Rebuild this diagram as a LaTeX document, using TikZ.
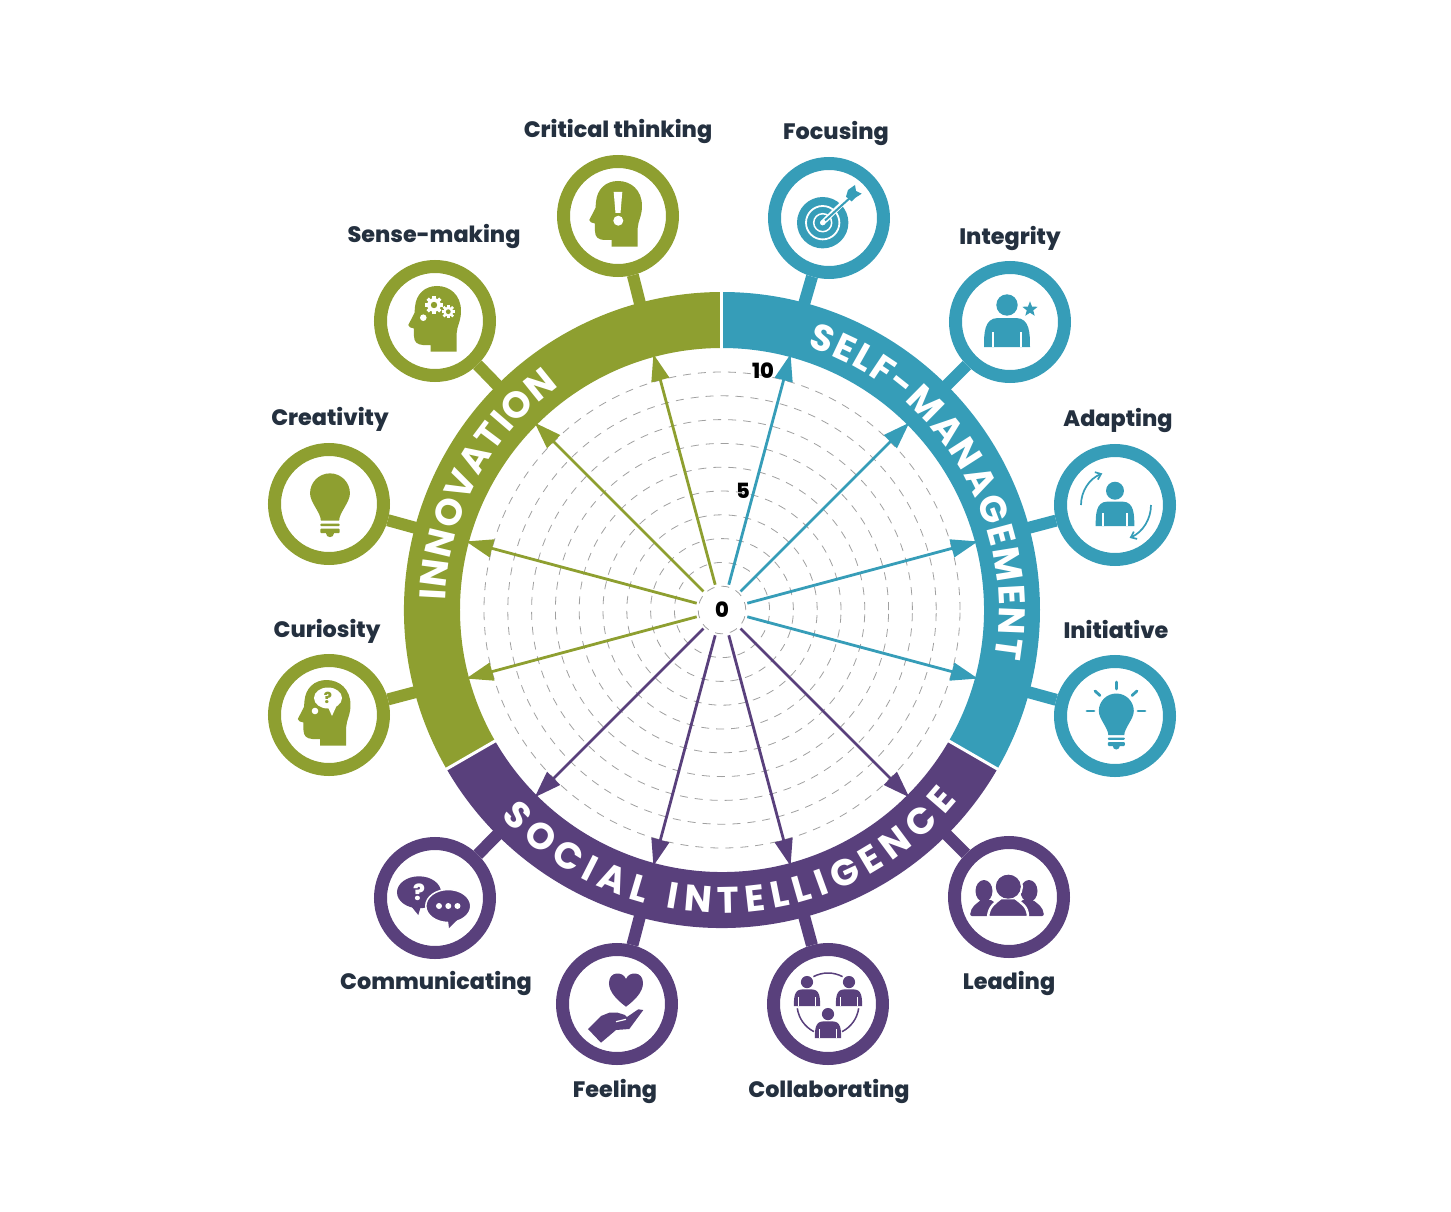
\documentclass[tikz,border=0pt]{standalone}
\usepackage{fontspec}
\usetikzlibrary{arrows.meta,decorations.text,calc}
\newfontfamily\lblfont{Poppins ExtraBold}
\newfontfamily\bandfont{Poppins Bold}
\definecolor{cblue}{HTML}{369DB8}
\definecolor{cgreen}{HTML}{8E9F30}
\definecolor{cpurple}{HTML}{59407C}
\definecolor{cink}{HTML}{24303F}
\definecolor{cdash}{HTML}{A0A0A0}
\tikzset{
  iconring/.style={circle,draw=#1,line width=13pt,fill=white,minimum size=109pt,inner sep=0pt},
  stemline/.style={draw=#1,line width=12pt},
  rayline/.style={draw=#1,line width=2.8pt,-{Triangle[length=27pt,width=18pt,fill=#1]}},
  gridline/.style={draw=cdash,line width=.8pt,dash pattern=on 8pt off 7pt},
  lbl/.style={font=\lblfont\fontsize{22.3}{26}\selectfont,text=cink,inner sep=0pt},
  num/.style={font=\lblfont\fontsize{21}{24}\selectfont,text=black,inner sep=0pt},
  gapline/.style={draw=white,line width=3pt},
}
\newcommand\HeadShape{%
  \fill[ic] (19.7,-30.7) -- (19.7,-12) .. controls (20,-5) and (24,0) .. (24,10)
    .. controls (24,26) and (13,35) .. (0,35) .. controls (-12,35) and (-21,27) .. (-22,14)
    -- (-22.5,8) -- (-28.7,-4) .. controls (-28.7,-6) and (-26,-7) .. (-23,-7.5) -- (-23,-15)
    .. controls (-23,-21) and (-20,-23.5) .. (-14,-24) -- (-6.3,-24) -- (-6.3,-30.7) -- cycle;}
\newcommand\BulbShape{%
  \fill[ic] (-8,-24) .. controls (-8,-17) and (-17.5,-8) .. (-17.5,0) arc (180:0:17.5)
    .. controls (17.5,-8) and (8,-17) .. (8,-24) -- cycle;
  \fill[ic,rounded corners=1pt] (-8.5,-26.5) rectangle (8.5,-28.8);
  \fill[ic,rounded corners=1pt] (-8.5,-31) rectangle (8.5,-35);
  \fill[ic] (-3.5,-35) arc (180:360:3.5);}
\newcommand\BustShape[3]{%
  \begin{scope}[shift={(#1,#2)},scale=#3]
    \fill[ic] (0,42) circle (10.7);
    \fill[ic] (-23,0) .. controls (-23,13) and (-23,29) .. (-9,29) -- (9,29)
      .. controls (23,29) and (23,13) .. (23,0) -- cycle;
    \fill[white] (-15,0) rectangle (-13.2,15);
    \fill[white] (13.2,0) rectangle (15,15);
  \end{scope}}
\newcommand\GearShape[3]{%
  \begin{scope}[shift={(#1,#2)}]
    \foreach \ga in {0,45,...,315}{\draw[white,line width=#3*.42pt] (\ga:#3*.7) -- (\ga:#3*1.12);}
    \fill[white] (0,0) circle (#3*.85);
    \fill[ic] (0,0) circle (#3*.4);
  \end{scope}}
\begin{document}
\begin{tikzpicture}[x=1pt,y=1pt]
\useasboundingbox (-722,-601) rectangle (729,610);

% dashed scale
\foreach \gk in {1,...,10}{\draw[gridline] (0,0) circle (\gk*23.8);}

% band
\fill[cblue] (90:318) arc (90:-30:318) -- (-30:262) arc (-30:90:262) -- cycle;
\fill[cpurple] (-30:318) arc (-30:-150:318) -- (-150:262) arc (-150:-30:262) -- cycle;
\fill[cgreen] (210:318) arc (210:90:318) -- (90:262) arc (90:210:262) -- cycle;

% hub
\node[circle,minimum size=52pt,inner sep=0pt,num] (hub) at (0,0) {0};

% rays, tips on the inner edge of the band
\foreach \ra/\rc in {75/cblue,45/cblue,15/cblue,-15/cblue,-45/cpurple,-75/cpurple,-105/cpurple,-135/cpurple,195/cgreen,165/cgreen,135/cgreen,105/cgreen}{
  \coordinate (tip\ra) at (\ra:265);
  \draw[rayline=\rc] (hub) -- (tip\ra);
}
\foreach \ga in {90,-30,210}{\coordinate (gi\ga) at (\ga:258); \coordinate (go\ga) at (\ga:322); \draw[gapline] (gi\ga) -- (go\ga);}

\node[num] (nfive) at (21,119) {5};
\node[num] (nten) at (41,239) {10};

% icon rings and stems
\foreach \ia/\ix/\iy/\iname/\ic in {75/107/392/focusing/cblue,45/288/288/integrity/cblue,15/393/105/adapting/cblue,-15/393/-106/initiative/cblue,-45/287/-287/leading/cpurple,-75/106/-394/collaborating/cpurple,-105/-105/-394/feeling/cpurple,-135/-287/-288/communicating/cpurple,195/-393/-105/curiosity/cgreen,165/-393/106/creativity/cgreen,135/-287/289/sensemaking/cgreen,105/-104/394/critical/cgreen}{
  \coordinate (band\iname) at (\ia:312);
  \node[iconring=\ic] (\iname) at (\ix,\iy) {};
  \draw[stemline=\ic] (band\iname) -- (\iname);
}

% labels
\node[lbl] (lcritical) at (-104,479) {Critical thinking};
\node[lbl] (lfocusing) at (114,477) {Focusing};
\node[lbl] (lintegrity) at (288,372) {Integrity};
\node[lbl] (ladapting) at (396,190) {Adapting};
\node[lbl] (linitiative) at (394,-19) {Initiative};
\node[lbl] (lleading) at (287,-373) {Leading};
\node[lbl] (lcollab) at (107,-481) {Collaborating};
\node[lbl] (lfeeling) at (-107,-481) {Feeling};
\node[lbl] (lcomm) at (-286,-373) {Communicating};
\node[lbl] (lcuriosity) at (-395,-21) {Curiosity};
\node[lbl] (lcreativity) at (-392,191) {Creativity};
\node[lbl] (lsense) at (-288,374) {Sense-making};

% band titles
\path[decorate,decoration={text along path,text align={fit to path},text color=white,
  text={|\bandfont\fontsize{37}{40}\selectfont|SELF-MANAGEMENT}}] (72:277) arc (72:-10:277);
\path[decorate,decoration={text along path,text align={fit to path},text color=white,
  text={|\bandfont\fontsize{37}{40}\selectfont|INNOVATION}}] (178:277) arc (178:126:277);
\path[decorate,decoration={text along path,text align={fit to path},text color=white,
  text={|\bandfont\fontsize{37}{40}\selectfont|SOCIAL INTELLIGENCE}}] (223:303) arc (223:321:303);

% --- icons ---
% critical thinking
\begin{scope}[shift={(critical.center)}]
  \colorlet{ic}{cgreen}
  \HeadShape
  \fill[white] (-4.3,24) -- (4.3,24) -- (2.5,3) -- (-2.5,3) -- cycle;
  \fill[white] (0.3,-4.7) circle (5);
\end{scope}
% sense-making
\begin{scope}[shift={(sensemaking.center)}]
  \colorlet{ic}{cgreen}
  \begin{scope}[shift={(2,0)}]\HeadShape\end{scope}
  \GearShape{-1}{16}{8}
  \GearShape{13.3}{9.3}{6}
  \fill[white] (-11.7,3.3) circle (3.3);
\end{scope}
% curiosity
\begin{scope}[shift={(curiosity.center)}]
  \colorlet{ic}{cgreen}
  \begin{scope}[shift={(-2.5,0)}]\HeadShape\end{scope}
  \fill[white] (-1,17) ellipse (14 and 10.5);
  \fill[white] (-2,10) -- (3,-1) -- (8,10) -- cycle;
  \node[inner sep=0pt,text=cgreen,font=\lblfont\fontsize{15}{16}\selectfont] (qcur) at (-1,17) {?};
  \fill[white] (-14,4) circle (3.3);
\end{scope}
% creativity
\begin{scope}[shift={(creativity.center)}]
  \colorlet{ic}{cgreen}
  \begin{scope}[shift={(1,10.7)},scale=1.14]\BulbShape\end{scope}
\end{scope}
% focusing
\begin{scope}[shift={(focusing.center)}]
  \colorlet{ic}{cblue}
  \fill[ic] (-6.3,-4.7) circle (25.7);
  \draw[white,line width=1.8pt] (-6.3,-4.7) circle (16.7);
  \draw[white,line width=1.5pt] (-6.3,-4.7) circle (9);
  \draw[white,line width=5pt,line cap=round] (-6.3,-4.7) -- (18,19);
  \draw[ic,line width=2pt] (-4,-2.5) -- (22,21);
  \fill[white] (-6.3,-4.7) circle (2.6);
  \fill[ic] (17,21.3) -- (19,28) -- (26,33) -- (27,27) -- (32.7,24.3) -- (26,20) -- (22.7,16.5) -- cycle;
\end{scope}
% integrity
\begin{scope}[shift={(integrity.center)}]
  \colorlet{ic}{cblue}
  \BustShape{-3}{-25}{1}
  \fill[ic] (20,12.7)+(90:8) -- +(126:3.4) -- +(162:8) -- +(198:3.4) -- +(234:8) -- +(270:3.4) -- +(306:8) -- +(342:3.4) -- +(18:8) -- +(54:3.4) -- cycle;
\end{scope}
% adapting
\begin{scope}[shift={(adapting.center)}]
  \colorlet{ic}{cblue}
  \BustShape{0}{-21}{.84}
  \draw[ic,line width=1.7pt,-{Straight Barb[length=5pt,width=8pt]}] (180:34) arc (180:112:34);
  \draw[ic,line width=1.7pt,-{Straight Barb[length=5pt,width=8pt]}] (0:36) arc (0:-66:36);
\end{scope}
% initiative
\begin{scope}[shift={(initiative.center)}]
  \colorlet{ic}{cblue}
  \begin{scope}[shift={(1.3,5)}]\BulbShape\end{scope}
  \foreach \rx/\ry/\sx/\sy in {1.3/34/1.3/27,-28/5/-21/5,30/5/23/5,-20/25/-15/20.5,22/25/17/20.5}{
    \draw[ic,line width=2.8pt,line cap=round] (\rx,\ry) -- (\sx,\sy);}
\end{scope}
% leading
\begin{scope}[shift={(leading.center)}]
  \colorlet{ic}{cpurple}
  \fill[ic] (-25,6) ellipse (8.5 and 11);
  \fill[ic] (20,6) ellipse (8.5 and 11);
  \fill[ic,rounded corners=2pt] (-39,-19) .. controls (-38,-10) and (-33,-7) .. (-28,-3) -- (-16,-3) -- (-10,-19) -- cycle;
  \fill[ic,rounded corners=2pt] (35,-19) .. controls (34,-10) and (29,-7) .. (24,-3) -- (12,-3) -- (6,-19) -- cycle;
  \draw[white,line width=2.5pt,fill=ic] (-0.7,10.3) ellipse (13.5 and 13);
  \draw[white,line width=2.5pt,fill=ic] (-21,-20) .. controls (-20,-9) and (-14,-6) .. (-8,-1) -- (6,-1) .. controls (12,-6) and (19,-9) .. (19,-20) -- cycle;
  \fill[ic] (-0.7,10.3) ellipse (12.5 and 12);
\end{scope}
% collaborating
\begin{scope}[shift={(collaborating.center)}]
  \colorlet{ic}{cpurple}
  \BustShape{-21}{-2}{.57}
  \BustShape{21}{-2}{.57}
  \BustShape{0}{-34}{.57}
  \draw[ic,line width=1.5pt] (62:31) arc (62:118:31);
  \draw[ic,line width=1.5pt] (188:31) arc (188:243:31);
  \draw[ic,line width=1.5pt] (-8:31) arc (-8:-63:31);
\end{scope}
% feeling
\begin{scope}[shift={(feeling.center)}]
  \colorlet{ic}{cpurple}
  \fill[ic] (9,-2.7) .. controls (0,4) and (-8,12) .. (-8,21) .. controls (-8,33) and (6,33) .. (9,25)
    .. controls (12,33) and (26,33) .. (26,21) .. controls (26,12) and (18,4) .. (9,-2.7) -- cycle;
  \fill[ic] (-29,-25) -- (-16,-38.7) -- (-1,-26) -- (12.3,-25) -- (26.3,-6) -- (21.3,-5.3) -- (10,-13)
    -- (8,-11) -- (0.7,-8.7) -- (-7.7,-8.7) -- (-16,-12) -- cycle;
  \draw[white,line width=1.2pt] (-1,-17.7) -- (9,-15.3);
\end{scope}
% communicating
\begin{scope}[shift={(communicating.center)}]
  \colorlet{ic}{cpurple}
  \fill[ic] (-16,5.7) ellipse (22 and 16);
  \fill[ic] (-24,-8) -- (-16.7,-17) -- (-14,-8) -- cycle;
  \node[inner sep=0pt,text=white,font=\lblfont\fontsize{22}{24}\selectfont] (qcomm) at (-16,6) {?};
  \draw[white,line width=1.5pt,fill=ic] (13.3,-8) ellipse (22.5 and 16.5);
  \fill[ic] (13,-22) -- (14,-30) -- (25,-19) -- cycle;
  \fill[white] (4,-8) circle (3) (13.3,-8) circle (3) (22.5,-8) circle (3);
\end{scope}
\end{tikzpicture}
\end{document}
